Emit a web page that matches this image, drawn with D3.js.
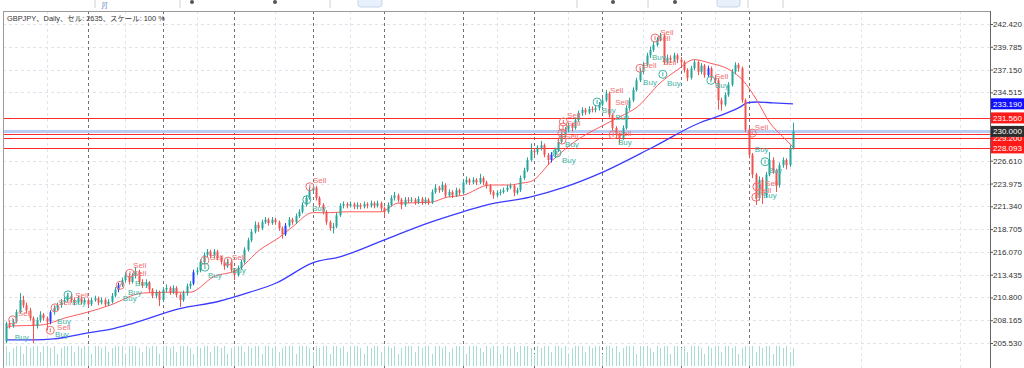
<!DOCTYPE html>
<html><head><meta charset="utf-8">
<script src="https://cdn.jsdelivr.net/npm/d3@7"></script>
<style>body{margin:0;background:#fff}svg{display:block}text{font-family:"Liberation Sans","Noto Sans CJK JP",sans-serif}</style>
</head><body><svg id="c" width="1024" height="368"></svg>
<script>
// ---------- data ----------
const title = "GBPJPY、Daily、セル: 2635、スケール: 100 %";
const firstOpen = 205.7;
const closes = [207.8,207.5,208.0,209.1,210.5,209.9,209.3,208.4,207.5,208.2,
208.8,208.4,208.0,209.1,209.6,209.9,210.3,210.5,211.0,210.5,
210.2,210.7,210.3,210.5,210.0,210.5,210.7,210.2,210.5,210.0,
210.3,211.0,211.7,212.2,212.8,213.3,212.6,213.3,213.8,212.6,
212.2,212.5,211.7,211.0,211.4,210.5,211.7,211.9,211.4,211.9,
211.1,210.5,211.3,212.1,212.4,213.7,213.9,214.9,215.7,216.1,
215.6,216.1,215.4,214.9,214.4,214.9,214.0,213.4,214.2,214.9,
216.3,217.4,218.4,219.2,218.8,219.5,219.8,219.4,219.8,219.5,
218.8,218.1,219.1,219.8,219.5,220.2,220.7,221.5,222.3,223.2,
223.5,222.3,221.5,220.7,219.5,218.8,219.0,220.3,221.4,221.6,
221.4,221.6,221.3,221.5,221.3,221.6,221.4,221.7,221.4,221.7,
221.1,220.7,221.5,222.3,222.6,222.1,221.5,222.1,222.0,222.1,
221.8,222.2,221.8,222.1,221.8,223.0,223.5,223.2,223.8,222.6,
223.0,222.6,223.2,222.9,224.1,224.4,224.1,224.4,224.1,224.6,
224.1,223.7,223.0,222.6,222.9,223.0,223.2,223.5,223.7,222.9,
223.2,224.6,225.5,226.7,227.8,227.6,228.1,228.4,227.3,226.7,
227.3,227.8,228.8,229.6,230.2,230.7,230.4,231.3,232.1,232.5,
232.2,232.6,232.5,232.7,233.1,233.6,234.4,231.9,230.4,229.6,
229.2,230.4,232.7,233.6,234.8,235.9,236.9,237.7,238.8,239.4,
240.0,240.6,241.1,238.0,238.5,238.3,238.8,238.3,238.0,237.1,
236.2,237.3,238.0,236.9,237.6,236.5,237.3,236.2,235.9,233.6,
233.1,234.2,235.4,236.9,237.7,237.3,233.6,230.2,227.3,225.0,
222.3,224.4,222.6,225.0,226.7,225.5,223.8,226.1,226.7,226.1,
228.1,230.0];
const highs = [208.0,208.1,208.3,209.4,211.3,211.0,210.2,209.6,208.6,208.5,
209.2,209.0,208.6,209.3,209.9,210.2,210.6,210.8,211.3,211.2,
210.8,211.0,210.9,210.8,210.7,210.8,211.0,210.9,210.8,210.7,
210.6,211.3,212.0,212.5,213.1,213.7,213.6,213.6,214.3,214.0,
212.9,212.9,212.7,211.9,211.7,211.6,212.0,212.3,212.1,212.2,
212.1,211.3,211.6,212.4,212.7,214.0,214.3,215.2,216.0,216.4,
216.3,216.4,216.3,215.6,215.1,215.3,215.1,214.2,214.5,215.2,
216.6,217.7,218.7,219.6,219.5,219.8,220.1,220.0,220.1,220.0,
219.7,219.0,219.4,220.1,220.0,220.5,221.0,221.8,222.6,223.6,
223.9,223.7,222.5,221.7,220.9,219.7,219.4,220.6,221.7,221.9,
221.8,221.9,221.8,221.8,221.7,221.9,221.8,222.0,221.9,222.0,
221.9,221.3,221.8,222.6,223.0,222.8,222.3,222.4,222.4,222.4,
222.3,222.5,222.4,222.4,222.3,223.3,223.9,223.7,224.2,224.0,
223.3,223.2,223.5,223.4,224.4,224.8,224.6,224.7,224.6,225.1,
224.8,224.3,223.9,223.2,223.2,223.3,223.5,223.8,224.0,223.9,
223.5,224.9,225.8,227.0,228.6,228.1,228.4,228.9,228.6,227.5,
227.6,228.1,229.1,229.9,230.5,231.0,231.0,231.6,232.4,232.8,
232.7,232.9,232.9,233.0,233.4,233.9,234.8,234.6,232.1,230.6,
229.8,230.7,233.0,233.9,235.1,236.2,237.3,238.0,239.1,239.8,
240.4,240.9,241.4,241.3,238.9,238.8,239.1,239.0,238.6,238.2,
237.3,237.6,238.3,238.2,237.9,237.8,237.6,237.5,236.5,236.1,
233.9,234.5,235.7,237.2,238.0,237.9,237.5,233.8,230.4,227.5,
225.2,224.8,224.7,225.3,227.6,227.0,225.7,226.4,227.0,226.9,
228.4,231.0];
const lows = [205.5,207.2,207.3,207.8,208.9,209.6,209.0,208.1,205.5,207.2,
207.9,208.1,207.0,207.7,208.8,209.3,209.6,210.0,210.2,210.2,
209.9,210.0,210.0,210.1,209.7,209.8,210.3,209.9,210.0,209.7,
209.8,210.1,210.8,211.4,212.0,212.5,212.3,212.4,213.0,212.3,
211.9,211.9,211.4,210.7,210.7,209.8,210.3,211.4,211.1,211.2,
210.8,209.7,210.3,211.0,211.8,212.2,213.4,213.7,214.6,215.4,
215.3,215.3,215.1,214.6,214.0,214.2,213.7,212.8,213.2,214.0,
214.7,216.1,217.2,218.2,218.4,218.6,219.3,219.1,219.2,219.2,
218.5,217.6,217.9,218.9,219.2,219.3,220.0,220.5,221.3,222.1,
222.9,222.0,221.2,220.4,219.2,218.5,218.2,218.8,220.1,221.1,
221.1,221.2,221.0,221.0,221.0,221.1,221.1,221.2,221.1,221.2,
220.8,220.1,220.5,221.3,222.0,221.8,221.0,221.3,221.7,221.8,
221.5,221.6,221.5,221.6,221.5,221.6,222.8,222.9,223.0,222.3,
222.4,222.3,222.4,222.6,222.7,223.9,223.8,223.9,223.8,223.9,
223.8,223.4,222.7,222.2,222.4,222.6,222.8,223.0,223.3,222.5,
222.7,223.0,224.4,225.3,226.5,227.2,227.3,227.8,227.0,226.1,
226.4,226.9,227.6,228.6,229.3,229.9,230.0,230.2,231.1,231.8,
231.9,232.0,232.2,232.2,232.4,232.9,233.4,231.6,230.1,229.2,
228.6,229.0,230.2,232.4,233.4,234.6,235.7,236.6,237.5,238.5,
239.2,239.8,240.4,237.7,237.7,237.9,238.0,237.9,237.6,236.8,
235.8,236.0,237.1,236.5,236.6,236.2,236.3,235.9,235.5,232.5,
232.4,232.9,234.0,235.2,236.6,236.9,233.3,229.9,226.9,224.6,
221.5,222.0,221.6,222.3,224.8,225.1,223.0,223.5,225.8,225.6,
225.9,227.9];
const volumes = [10,7,9,10,10,6,10,9,10,10,7,10,10,9,10,6,9,10,10,10,
7,10,9,10,10,6,10,10,9,10,7,9,10,10,10,6,10,10,10,9,
7,10,9,10,10,6,10,10,9,10,7,10,10,10,9,6,10,9,10,10,
7,10,10,9,10,6,9,10,10,10,7,10,9,10,10,6,10,10,9,10,
7,9,10,10,10,6,10,10,10,9,7,10,9,10,10,6,10,10,9,10,
7,10,10,10,9,6,10,9,10,10,7,10,10,9,10,6,9,10,10,10,
7,10,9,10,10,6,10,10,9,10,7,9,10,10,10,6,10,10,10,9,
7,10,9,10,10,6,10,10,9,10,7,10,10,10,9,6,10,9,10,10,
7,10,10,9,10,6,9,10,10,10,7,10,9,10,10,6,10,10,9,10,
7,9,10,10,10,6,10,10,10,9,7,10,9,10,10,6,10,10,9,10,
7,10,10,10,9,6,10,9,10,10,7,10,10,9,10,6,9,10,10,10,
7,10,9,10,10,6,10,10,9,10,7,9];
const blueCandles = [13,33,55,82,160,206];
// moving averages: [bar index, value]
const maFast = [[0,207.3],[2,207.5],[10,207.6],[18,208.5],[24,209.1],[30.5,209.9],[40,211.3],[47,211.4],[54,211.4],[61,213.2],[68,214.0],[74.5,216.3],[80.4,217.8],[84.2,219.0],[90,220.6],[95,220.6],[99.5,220.7],[110,220.7],[115,221.7],[124.5,221.8],[129.5,222.4],[134,222.6],[142,223.8],[148,223.8],[151,224.0],[154,224.2],[160.5,226.7],[167.6,229.0],[174.3,230.5],[180.2,231.7],[185.2,232.8],[192,235.6],[197,237.1],[202,238.3],[206.6,237.9],[212.5,237.1],[216.3,235.9],[220.4,233.6],[224.2,231.0],[228,229.4],[231,228.2]];
const maSlow = [[0,205.9],[8,205.9],[14,206.0],[24,206.7],[30.5,207.1],[37.3,207.8],[51,209.5],[62,210.3],[71.6,211.4],[79.5,212.5],[90,214.8],[98,215.5],[110.7,217.4],[122.4,219.2],[134.1,220.7],[141.2,221.5],[153.8,222.4],[163.5,223.5],[175.2,225.3],[190,228.2],[203.7,231.0],[208.7,231.7],[215.4,232.8],[217.5,233.3],[220.4,233.4],[225.1,233.3],[231,233.19]];
const priceTicks = [242.420,239.785,237.150,234.515,226.610,223.975,221.340,218.705,216.070,213.435,210.800,208.165,205.530];
const levelLines = [231.560,229.660,229.200,228.093];
const bidPrice = 230.000;
const slowLast = 233.190;
const separators = [24,46,67,90,111,134,155,175,198,218];
const gridBars = [12,35,56,79,101,123,144,165,187,208,230,251,280];
// signal circles [bar, price, type] and labels [bar, price, text]
const sigMarks = [[2,208.2,"S"],[13,207.0,"S"],[14.4,209.6,"S"],[18.2,211.1,"B"],[33.5,212.2,"S"],[36.4,213.6,"S"],
[58.4,215.1,"S"],[58.4,214.3,"B"],[65.2,215.0,"S"],[89.2,223.6,"S"],[88.3,222.1,"B"],
[161.7,227.5,"B"],[163.2,229.8,"S"],[163.2,229.0,"S"],[163.5,230.5,"S"],[163.6,231.1,"S"],[173.5,233.4,"B"],
[178.2,229.6,"S"],[186.1,237.3,"S"],[190.5,240.8,"S"],[192.8,236.6,"B"],[206.9,235.9,"B"],
[219,229.8,"S"],[222.8,226.5,"B"],[220.4,223.6,"S"],[220.1,222.4,"S"]];
const sigTexts = [[2.6,206.2,"Buy"],[3.5,209.0,"Sell"],[14.4,206.6,"Buy"],[15,207.4,"Sell"],[15,208.0,"Buy"],[15.3,210.2,"Sell"],
[19.4,210.2,"Buy"],[20.3,211.0,"Sell"],[37.3,214.5,"Sell"],[37.3,213.6,"Sell"],[37.9,212.5,"Buy"],[35.8,211.4,"Buy"],[34.3,210.7,"Buy"],
[59.9,215.5,"Sell"],[59.3,213.4,"Buy"],[66.3,215.4,"Sell"],[66.3,214.0,"Buy"],[90.1,224.3,"Sell"],[89.8,221.1,"Buy"],
[163.2,226.7,"Buy"],[164.1,228.5,"Buy"],[164.1,229.4,"Sell"],[164.7,231.0,"Sell"],[164.7,231.9,"Sell"],
[174.9,232.5,"Buy"],[177.3,234.8,"Sell"],[178.8,233.4,"Sell"],[178.8,231.6,"Buy"],[179.6,229.8,"Sell"],[179.6,228.7,"Buy"],
[187,237.7,"Sell"],[187,235.7,"Buy"],[189.6,238.6,"Buy"],[192,241.5,"Sell"],[191.1,240.8,"Sell"],[192.8,238.0,"Sell"],[194,235.6,"Buy"],
[208.1,236.4,"Sell"],[208.1,235.4,"Buy"],[219.8,230.5,"Sell"],[219.8,227.9,"Buy"],[223.7,225.5,"Buy"],[222.8,224.0,"Sell"],[220.7,223.2,"Sell"],[222.2,222.6,"Buy"]];

// ---------- drawing ----------
const svg = d3.select("#c");
const L = 3, R = 990, T = 11, B = 368;
const x = d3.scaleLinear().domain([0, closes.length - 1]).range([6, 793]);
const y = d3.scaleLinear().domain([205.53, 242.42]).range([343, 24]);
const yv = d3.scaleLinear().domain([0, 10]).range([366, 346]);

// toolbar remnants
const tb = svg.append("g");
[95,180,330,577,648,748,783].forEach(v => tb.append("line").attr("x1",v).attr("x2",v).attr("y1",0).attr("y2",8).attr("stroke","#d0d0d0"));
[[358,24],[717,23]].forEach(([a,w]) => tb.append("rect").attr("x",a).attr("y",-5).attr("width",w).attr("height",12).attr("rx",3).attr("fill","#e8f0fb").attr("stroke","#c5d5ea"));
[192,275,613,675].forEach(v => tb.append("circle").attr("cx",v).attr("cy",2).attr("r",2).attr("fill","#555"));
tb.append("text").attr("x",102).attr("y",7).attr("font-size",7).attr("fill","#6688cc").text("ʃ/ʃ");

svg.append("defs").append("clipPath").attr("id","clip").append("rect").attr("x",L).attr("y",T).attr("width",R-L).attr("height",B-T);
const g = svg.append("g").attr("clip-path","url(#clip)");

// grid
g.selectAll(".hg").data(priceTicks).join("line").attr("x1",L).attr("x2",R)
 .attr("y1",d=>Math.round(y(d))+0.5).attr("y2",d=>Math.round(y(d))+0.5)
 .attr("stroke","#dfe5ec").attr("stroke-dasharray","3,3");
g.selectAll(".vg").data(gridBars).join("line").attr("x1",d=>Math.round(x(d))+0.5).attr("x2",d=>Math.round(x(d))+0.5)
 .attr("y1",T).attr("y2",B).attr("stroke","#dfe5ec").attr("stroke-dasharray","3,3");
g.selectAll(".sep").data(separators).join("line").attr("x1",d=>Math.round(x(d))+0.5).attr("x2",d=>Math.round(x(d))+0.5)
 .attr("y1",T).attr("y2",B).attr("stroke","#707070").attr("stroke-dasharray","3,3");

// volumes
g.selectAll(".vol").data(volumes).join("line")
 .attr("x1",(d,i)=>Math.round(x(i))+0.5).attr("x2",(d,i)=>Math.round(x(i))+0.5)
 .attr("y1",yv(0)).attr("y2",d=>yv(d)).attr("stroke","#a9dcd3").attr("stroke-width",1);

// horizontal level lines
g.append("line").attr("x1",L).attr("x2",R).attr("y1",y(bidPrice)).attr("y2",y(bidPrice)).attr("stroke","#b9cdf2").attr("stroke-width",3);
g.selectAll(".lvl").data(levelLines).join("line").attr("x1",L).attr("x2",R)
 .attr("y1",d=>Math.round(y(d))+0.5).attr("y2",d=>Math.round(y(d))+0.5).attr("stroke","#ff2a2a").attr("stroke-width",1);

// moving averages
const line = d3.line().x(d=>x(d[0])).y(d=>y(d[1])).curve(d3.curveMonotoneX);
g.append("path").attr("d",line(maSlow)).attr("fill","none").attr("stroke","#3b3bff").attr("stroke-width",1.3);
g.append("path").attr("d",line(maFast)).attr("fill","none").attr("stroke","#ff5a5a").attr("stroke-width",1);

// candles
const opens = closes.map((c,i)=> i===0 ? firstOpen : closes[i-1]);
const cdata = closes.map((c,i)=>({i,o:opens[i],c,h:highs[i],l:lows[i]}));
const col = d => blueCandles.includes(d.i) ? "#2040ff" : (d.c >= d.o ? "#26a69a" : "#ef5350");
const cg = g.append("g");
cg.selectAll(".wick").data(cdata).join("line")
 .attr("x1",d=>Math.round(x(d.i))+0.5).attr("x2",d=>Math.round(x(d.i))+0.5)
 .attr("y1",d=>y(d.h)).attr("y2",d=>y(d.l)).attr("stroke",col);
cg.selectAll(".body").data(cdata).join("rect")
 .attr("x",d=>Math.round(x(d.i))-0.5).attr("width",2)
 .attr("y",d=>y(Math.max(d.o,d.c))).attr("height",d=>Math.max(1,Math.abs(y(d.o)-y(d.c))))
 .attr("fill",col);

// signals
const sc = t => t==="S" || t==="Sell" ? "#f07070" : "#3fb3a3";
const sg = g.append("g");
sigMarks.forEach(([i,p,t]) => {
  const cx = x(i), cy = y(p);
  sg.append("circle").attr("cx",cx).attr("cy",cy).attr("r",4).attr("fill","none").attr("stroke",sc(t)).attr("stroke-width",1);
  sg.append("line").attr("x1",cx).attr("x2",cx).attr("y1",cy-2).attr("y2",cy+2).attr("stroke",sc(t));
});
sg.selectAll(".st").data(sigTexts).join("text").attr("x",d=>x(d[0])).attr("y",d=>y(d[1])).attr("dy","0.35em")
 .attr("font-size",8).attr("fill",d=>sc(d[2])).text(d=>d[2]);

// frame
svg.append("line").attr("x1",L).attr("x2",R).attr("y1",T+0.5).attr("y2",T+0.5).attr("stroke","#9a9a9a");
svg.append("line").attr("x1",L+0.5).attr("x2",L+0.5).attr("y1",T).attr("y2",B).attr("stroke","#9a9a9a");

// price axis
const ax = svg.append("g").attr("transform",`translate(${R},0)`)
 .call(d3.axisRight(y).tickValues(priceTicks).tickSize(3).tickPadding(0).tickFormat(d3.format(".3f")));
ax.select(".domain").remove();
ax.selectAll(".tick line").attr("stroke","#555");
ax.selectAll(".tick text").attr("font-size",8).attr("fill","#333").attr("font-family","Liberation Sans, sans-serif");
svg.append("line").attr("x1",R+0.5).attr("x2",R+0.5).attr("y1",T).attr("y2",B).attr("stroke","#666");

// price tags
const tags = [[slowLast,"#1010ff"],[levelLines[0],"#ff1a1a"],[levelLines[1],"#ff1a1a"],[levelLines[2],"#ff1a1a"],[bidPrice,"#2d2d2d"],[levelLines[3],"#ff1a1a"]];
tags.forEach(([v,c]) => {
  const yy = y(v);
  svg.append("rect").attr("x",R+1).attr("y",yy-5.5).attr("width",1024-R-1).attr("height",11).attr("fill",c);
  svg.append("text").attr("x",R+3).attr("y",yy).attr("dy","0.35em").attr("font-size",8).attr("fill","#fff").text(d3.format(".3f")(v));
});

// title
svg.append("text").attr("x",7).attr("y",21).attr("font-size",7.4).attr("fill","#333").text(title);
</script></body></html>
